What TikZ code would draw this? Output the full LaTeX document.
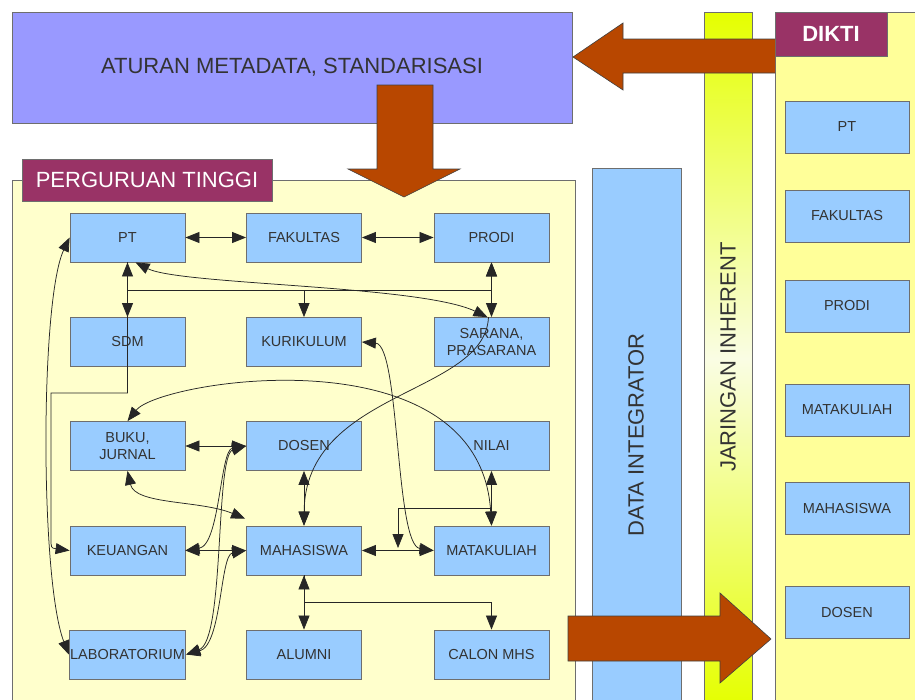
\documentclass[tikz,border=0pt]{standalone}
\usepackage{fontspec}
\setmainfont{Liberation Sans}
\usetikzlibrary{arrows.meta,calc}

\definecolor{rulebox}{HTML}{9999FF}
\definecolor{blockarrow}{HTML}{B84700}
\definecolor{ptpanel}{HTML}{FFFFCC}
\definecolor{diktipanel}{HTML}{FFFF99}
\definecolor{tagred}{HTML}{993366}
\definecolor{entity}{HTML}{99CCFF}
\definecolor{netgreen}{HTML}{E5FF00}
\definecolor{netlight}{HTML}{FAFDE4}
\definecolor{edgegray}{HTML}{6E6E6E}
\definecolor{inkgray}{HTML}{333333}

\begin{document}
\begin{tikzpicture}[x=1pt,y=-1pt,
  >={Triangle[length=14pt,width=11pt]},
  panel/.style={draw=edgegray, line width=0.8pt},
  entitybox/.style={draw=edgegray, line width=0.8pt, fill=entity,
    minimum width=115pt, minimum height=49pt, inner sep=1pt,
    text=inkgray, align=center,
    font=\fontsize{14.5}{17}\selectfont},
  diktibox/.style={entitybox, minimum width=124pt, minimum height=52pt},
  tagbox/.style={draw=edgegray, line width=0.8pt, fill=tagred, text=white,
    inner sep=0pt, font=\fontsize{22}{24}\selectfont},
  biglabel/.style={text=inkgray, font=\fontsize{22}{24}\selectfont},
  conn/.style={draw=black!85, line width=0.75pt},
  blockarrowstyle/.style={fill=blockarrow, draw=black!75, line width=0.6pt},
]

\useasboundingbox (0,0) rectangle (915,699);
\clip (0,0) rectangle (915,699);
\fill[white] (0,0) rectangle (915,699);

% metadata rules
\node[panel, fill=rulebox, minimum width=560pt, minimum height=111pt,
      inner sep=0pt, biglabel] (rules) at (292,67.5) {\raisebox{-2pt}{ATURAN METADATA, STANDARISASI}};

% university panel
\draw[panel, fill=ptpanel] (12,180) rectangle (575,710);
\node[tagbox, minimum width=250pt, minimum height=42pt] (pttag) at (147,180) {PERGURUAN TINGGI};

% entities of the university
\node[entitybox] (pt)     at (127.5,237.5) {PT};
\node[entitybox] (fak)    at (304,237.5)   {FAKULTAS};
\node[entitybox] (prodi)  at (491.5,237.5) {PRODI};
\node[entitybox] (sdm)    at (127.5,342)   {SDM};
\node[entitybox] (kur)    at (304,342)     {KURIKULUM};
\node[entitybox] (sar)    at (491.5,342)   {SARANA,\\PRASARANA};
\node[entitybox] (buku)   at (127.5,446)   {BUKU,\\JURNAL};
\node[entitybox] (dosen)  at (304,446)     {DOSEN};
\node[entitybox] (nilai)  at (491.5,446)   {NILAI};
\node[entitybox] (keu)    at (127.5,550.5) {KEUANGAN};
\node[entitybox] (mhs)    at (304,550.5)   {MAHASISWA};
\node[entitybox] (mk)     at (491.5,550.5) {MATAKULIAH};
\node[entitybox] (lab)    at (127.5,654.5) {LABORATORIUM};
\node[entitybox] (alumni) at (304,654.5)   {ALUMNI};
\node[entitybox] (calon)  at (491.5,654.5) {CALON MHS};

% helper points for the elbow connectors
\coordinate (busy) at (0,290);
\coordinate (k1) at (127.5,393);
\coordinate (k2) at (51,393);
\coordinate (k3) at (51,538);
\coordinate (nm) at (491.5,508);
\coordinate (nmturn) at (398,508);
\coordinate (tap) at (398,548);
\coordinate (mc) at (304,602);

% straight links
\draw[conn,<->] (pt.east) -- (fak.west);
\draw[conn,<->] (fak.east) -- (prodi.west);
\draw[conn,<->] (pt.south) -- (sdm.north);
\draw[conn,<->] (prodi.south) -- (sar.north);
\draw[conn,<->] (buku.east) -- (dosen.west);
\draw[conn,<->] (dosen.south) -- (mhs.north);
\draw[conn,<->] (nilai.south) -- (mk.north);
\draw[conn,<->] (keu.east) -- (mhs.west);
\draw[conn,<->] (mhs.east) -- (mk.west);
\draw[conn,<->] (mhs.south) -- (alumni.north);

% elbow connectors
\draw[conn,->] (pt.south) -- (pt.south |- busy) -- (prodi.south |- busy) -- (prodi.south);
\draw[conn,->] (kur.north |- busy) -- (kur.north);
\draw[conn,->] (pt.south) -- (k1) -- (k2) -- (k3) .. controls (51,548) .. (keu.west);
\draw[conn,->] (nm) -- (nmturn) -- (tap);
\draw[conn,->] (mhs.south) -- (mc) -| (calon.north);

% curved connectors
\draw[conn,<->] (pt.west) .. controls (40,300) and (40,580) .. (lab.west);
\draw[conn,<->] ($(pt.south)+(8,0)$) .. controls (180,285) and (420,285) .. ($(sar.north)+(-4,0)$);
\draw[conn,->] ($(sar.north)+(-3,0)$) .. controls (485,395) and (305,390) .. (mhs.north);
\draw[conn,<->] (buku.north) .. controls (160,380) and (480,330) .. (mk.north);
\draw[conn,<->] (kur.east) .. controls (400,345) and (395,545) .. (mk.west);
\draw[conn,<->] (buku.south) .. controls (135,505) and (200,500) .. ($(mhs.north west)+(-1,-7)$);
\draw[conn,<->] (dosen.west) .. controls (220,450) and (220,545) .. (keu.east);
\draw[conn,<->] (dosen.west) .. controls (215,455) and (225,640) .. (lab.east);
\draw[conn,<->] (mhs.west) .. controls (220,555) and (222,645) .. (lab.east);

% data integrator column
\node[panel, fill=entity, minimum width=89pt, minimum height=550pt, inner sep=0pt,
      anchor=north west] (integ) at (592,168) {};
\node[biglabel, rotate=90] (integlabel) at (636,435) {DATA INTEGRATOR};

% inherent network column
\shade[top color=netgreen, bottom color=netgreen, middle color=netlight]
  (704,12) rectangle (752,705);
\draw[panel] (704,705) -- (704,12) -- (752,12) -- (752,705);
\node[biglabel, rotate=90] (netlabel) at (728,357) {JARINGAN INHERENT};

% DIKTI panel
\draw[panel, fill=diktipanel] (775,12) rectangle (925,710);
\node[tagbox, font=\fontsize{22}{24}\selectfont\bfseries,
      minimum width=112pt, minimum height=44pt] (diktitag) at (831,34) {DIKTI};
\node[diktibox] (dpt)    at (847,127) {PT};
\node[diktibox] (dfak)   at (847,216) {FAKULTAS};
\node[diktibox] (dprodi) at (847,306) {PRODI};
\node[diktibox] (dmk)    at (847,410) {MATAKULIAH};
\node[diktibox] (dmhs)   at (847,508) {MAHASISWA};
\node[diktibox] (ddosen) at (847,612) {DOSEN};

% block arrows
\draw[blockarrowstyle] (377,85) -- (433,85) -- (433,169) -- (460,169)
  -- (404,197) -- (348,169) -- (377,169) -- cycle;
\draw[blockarrowstyle] (775,39) -- (623,39) -- (623,23) -- (573,57)
  -- (623,90) -- (623,73) -- (775,73);
\draw[blockarrowstyle] (568,616) -- (720,616) -- (720,593) -- (771,639)
  -- (720,683) -- (720,661) -- (568,661) -- cycle;
\end{tikzpicture}
\end{document}
